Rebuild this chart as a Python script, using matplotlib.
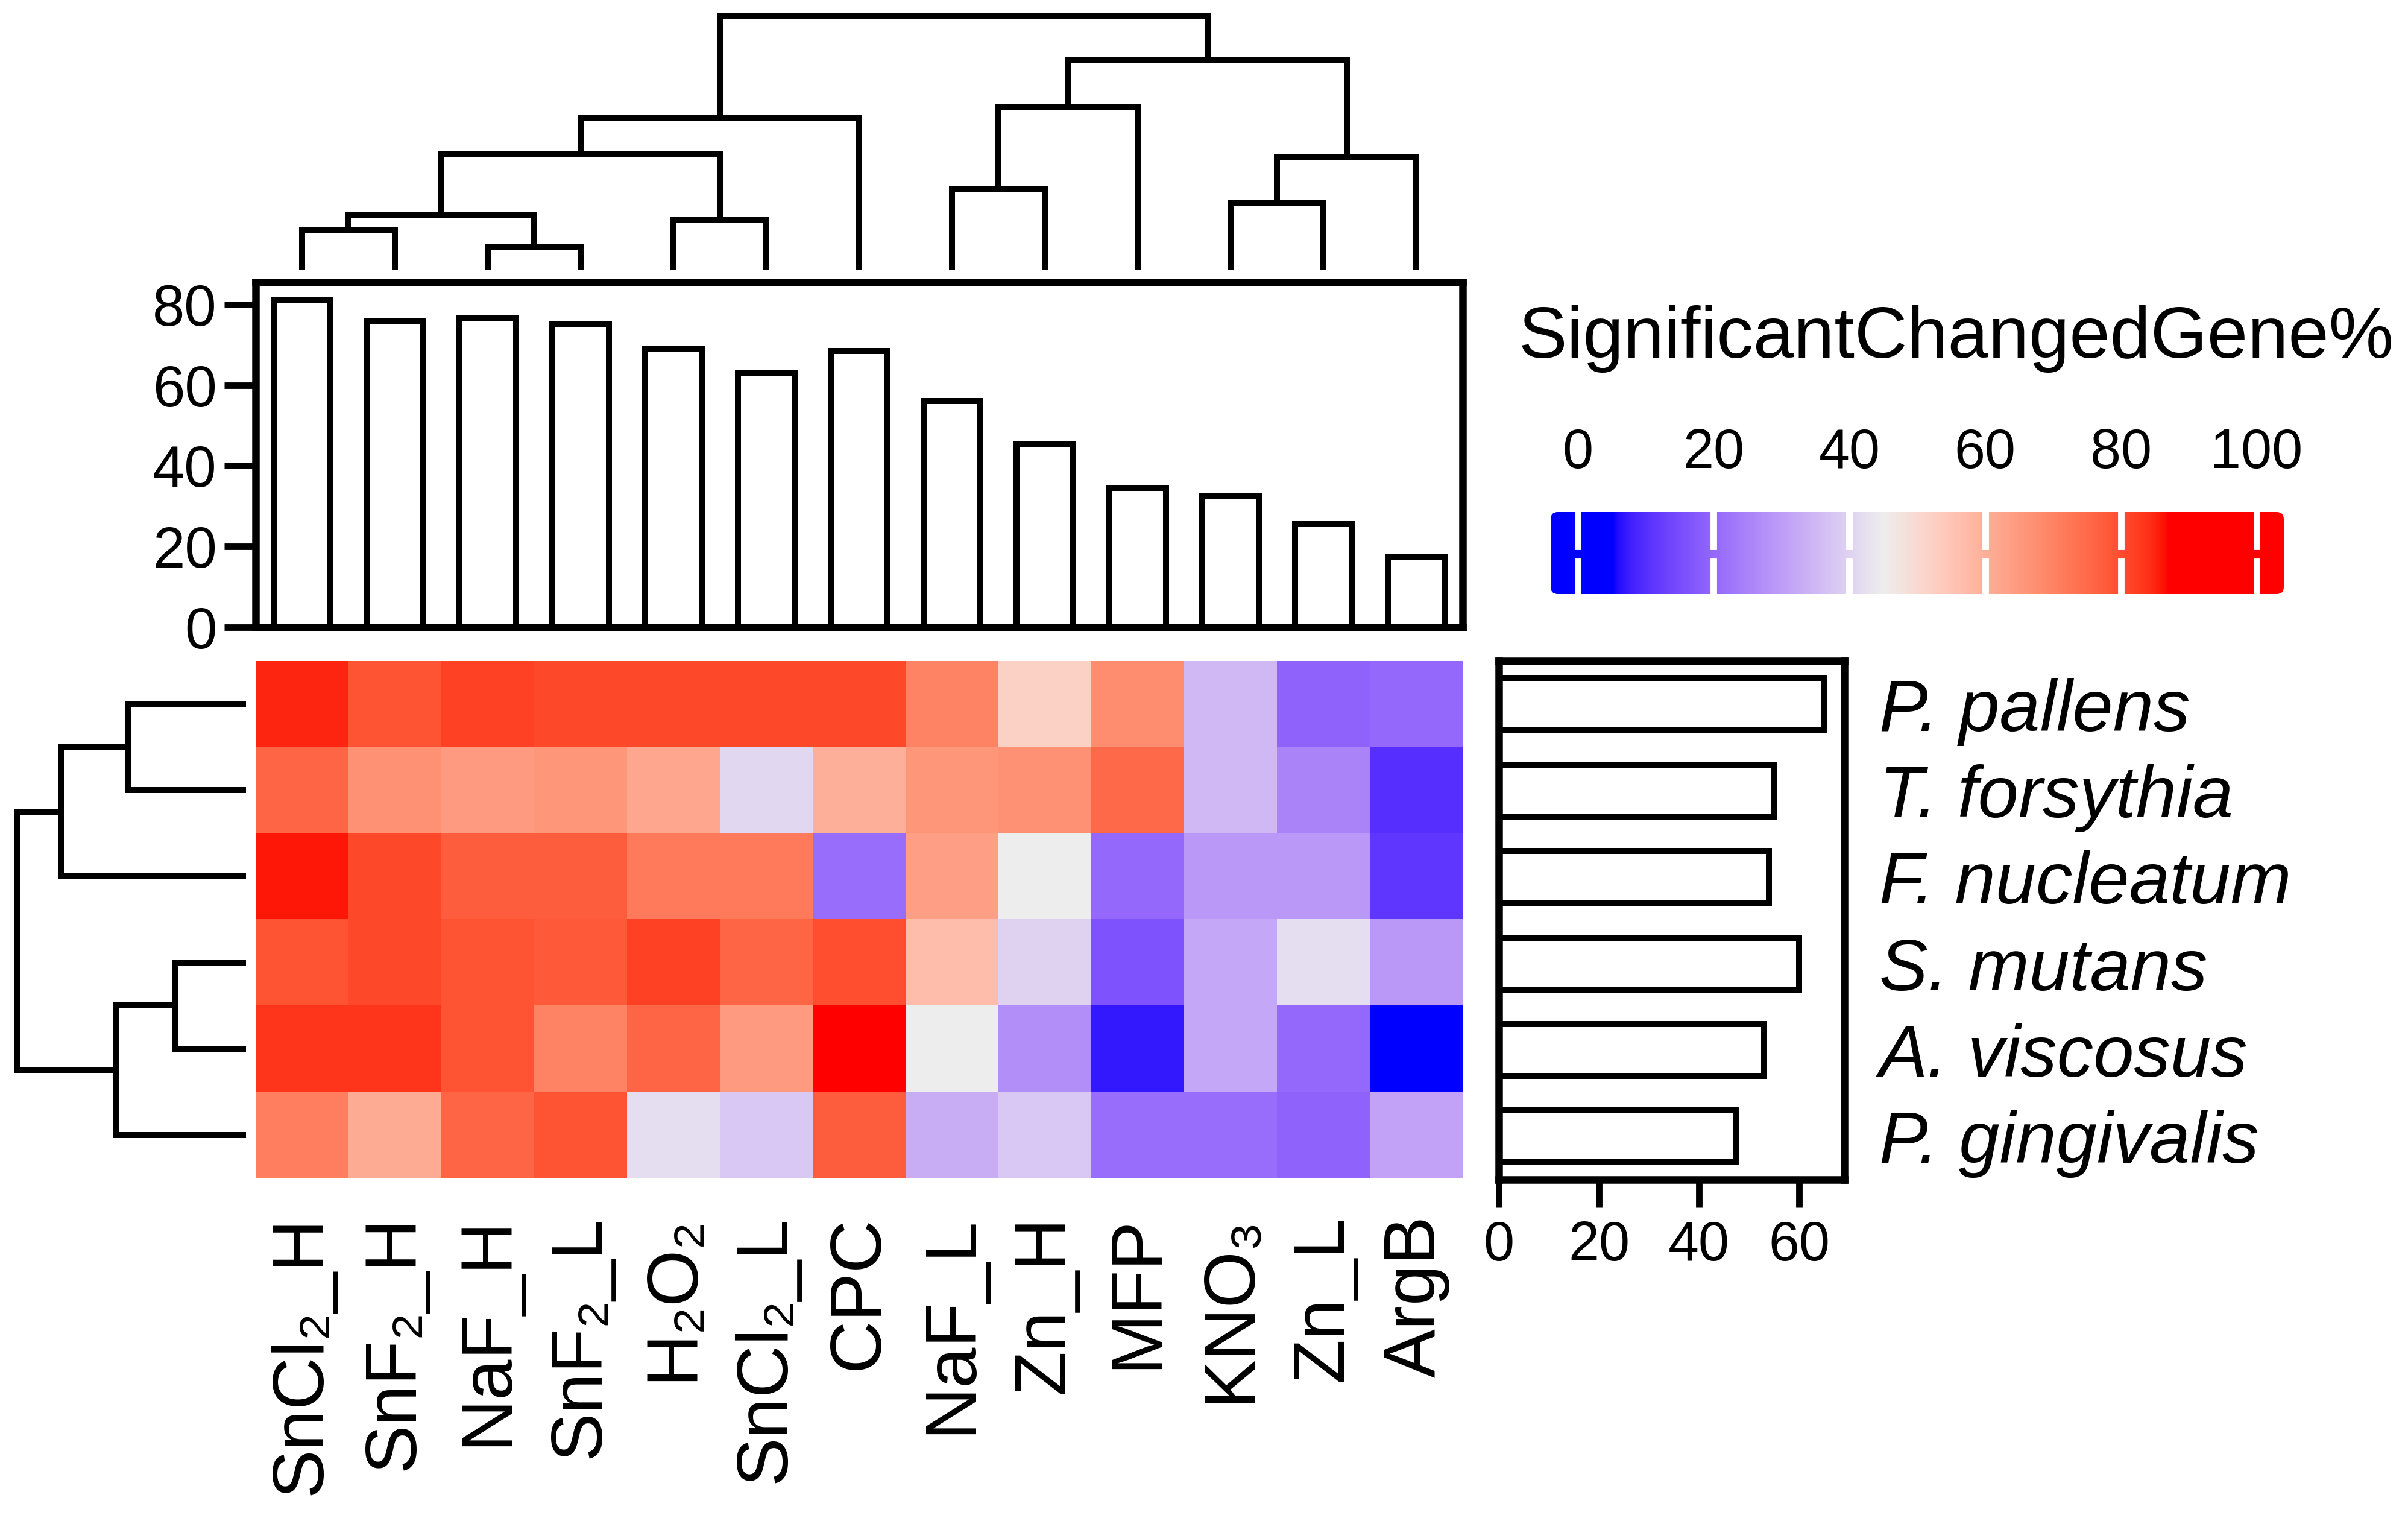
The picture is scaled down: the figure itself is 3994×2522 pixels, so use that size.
import numpy as np
import matplotlib
matplotlib.use("Agg")
import matplotlib.pyplot as plt
from matplotlib.colors import ListedColormap, Normalize, to_rgb
from matplotlib.patches import FancyBboxPatch

plt.rcParams["font.family"] = ["Liberation Sans", "DejaVu Sans"]

W, H = 3994, 2522
OUT = "out.png"

# ---- data -----------------------------------------------------------------
treatments = ["SnCl₂_H", "SnF₂_H", "NaF_H", "SnF₂_L", "H₂O₂", "SnCl₂_L", "CPC",
              "NaF_L", "Zn_H", "MFP", "KNO₃", "Zn_L", "ArgB"]
species = ["P. pallens", "T. forsythia", "F. nucleatum", "S. mutans",
           "A. viscosus", "P. gingivalis"]

# % significantly changed genes, rows = species, cols = treatments
pct_pallens = [85, 79, 82, 81, 81, 81, 81, 70, 52, 68, 35, 19, 20]
pct_forsythia = [76, 67, 65, 66, 62, 41, 60, 66, 67, 75, 35, 25, 10]
pct_nucleatum = [86, 81, 77.5, 77.5, 72, 72, 21, 64, 45, 20, 29, 29, 11]
pct_mutans = [79, 81, 79, 78, 82, 76, 80, 57, 40, 16, 32, 42, 29]
pct_viscosus = [83.5, 83.5, 79, 70, 76, 65, 88, 45, 27, 7, 32, 20, 3]
pct_gingivalis = [71, 61, 76, 79, 42, 38, 77.5, 33, 38, 21, 21, 19, 31]

treatment_total = [81, 76, 76.5, 75, 69, 63, 68.5, 56, 45.5, 34.5, 32.5, 25.5, 17.5]
species_total = [65, 55, 54, 60, 53, 47.5]

# dendrogram merges: (child_a, child_b, height); leaves are 0..n-1
col_merges = [(0, 1, 63), (2, 3, 34), (13, 14, 88), (4, 5, 79), (15, 16, 189),
              (17, 6, 248), (7, 8, 131), (19, 9, 266.5), (10, 11, 107),
              (21, 12, 184), (20, 22, 344), (18, 23, 417)]
row_merges = [(0, 1, 190), (6, 2, 302), (3, 4, 113), (8, 5, 210), (7, 9, 375)]

cmap_breaks = [5, 45, 87]
cmap_colors = ["#0000FF", "#EEEEEE", "#FF0000"]
legend_ticks = [0, 20, 40, 60, 80, 100]


# ---- colour mapping interpolated in LAB (like colorRamp2) -----------------
def srgb_to_lab(rgb):
    c = np.asarray(rgb, float)
    lin = np.where(c <= 0.04045, c / 12.92, ((c + 0.055) / 1.055) ** 2.4)
    m = np.array([[0.4124, 0.3576, 0.1805],
                  [0.2126, 0.7152, 0.0722],
                  [0.0193, 0.1192, 0.9505]])
    xyz = m @ lin / np.array([0.95047, 1.0, 1.08883])
    f = np.where(xyz > 0.008856, np.cbrt(xyz), 7.787 * xyz + 16 / 116)
    return np.array([116 * f[1] - 16, 500 * (f[0] - f[1]), 200 * (f[1] - f[2])])


def lab_to_srgb(lab):
    L, a, b = lab
    fy = (L + 16) / 116
    fx, fz = fy + a / 500, fy - b / 200
    f = np.array([fx, fy, fz])
    xyz = np.where(f > 0.2069, f ** 3, (f - 16 / 116) / 7.787)
    xyz = xyz * np.array([0.95047, 1.0, 1.08883])
    m = np.array([[3.2406, -1.5372, -0.4986],
                  [-0.9689, 1.8758, 0.0415],
                  [0.0557, -0.2040, 1.0570]])
    lin = np.clip(m @ xyz, 0, 1)
    return np.clip(np.where(lin <= 0.0031308, 12.92 * lin,
                            1.055 * lin ** (1 / 2.4) - 0.055), 0, 1)


def lab_cmap(breaks, colors, vmin=0, vmax=100, n=512):
    labs = [srgb_to_lab(to_rgb(c)) for c in colors]
    out = []
    for v in np.linspace(vmin, vmax, n):
        v = min(max(v, breaks[0]), breaks[-1])
        i = 0 if v <= breaks[1] else 1
        t = (v - breaks[i]) / (breaks[i + 1] - breaks[i])
        out.append(lab_to_srgb(labs[i] * (1 - t) + labs[i + 1] * t))
    return ListedColormap(out)


def draw_dendro(ax, merges, n, orient, lw=2.4):
    pos = {i: (float(i), 0.0) for i in range(n)}
    for k, (a, b, h) in enumerate(merges):
        xa, ha = pos[a]
        xb, hb = pos[b]
        xs, ys = [xa, xa, xb, xb], [ha, h, h, hb]
        if orient == "top":
            ax.plot(xs, ys, color="black", lw=lw, solid_joinstyle="miter")
        else:
            ax.plot(ys, xs, color="black", lw=lw, solid_joinstyle="miter")
        pos[n + k] = ((xa + xb) / 2, h)
    ax.axis("off")


def box(x0, y0, x1, y1):
    return [x0 / W, 1 - y1 / H, (x1 - x0) / W, (y1 - y0) / H]


def main():
    fig = plt.figure(figsize=(W / 300, H / 300), dpi=300)
    cmap = lab_cmap(cmap_breaks, cmap_colors)
    norm = Normalize(0, 100)
    data = np.array([pct_pallens, pct_forsythia, pct_nucleatum, pct_mutans,
                     pct_viscosus, pct_gingivalis])
    nr, nc = data.shape

    # column dendrogram
    ax_cd = fig.add_axes(box(424, 20, 2426, 448))
    draw_dendro(ax_cd, col_merges, nc, "top")
    ax_cd.set_xlim(-0.5, nc - 0.5)
    ax_cd.set_ylim(-4, 424)

    # column bar annotation
    ax_cb = fig.add_axes(box(424, 468, 2426, 1040))
    ax_cb.bar(range(nc), treatment_total, width=0.61, color="white",
              edgecolor="black", lw=2.4)
    ax_cb.set_xlim(-0.5, nc - 0.5)
    ax_cb.set_ylim(0, 85.5)
    ax_cb.set_xticks([])
    ax_cb.set_yticks([0, 20, 40, 60, 80])
    ax_cb.tick_params(axis="y", length=12.5, width=2.6, pad=3, labelsize=23)
    for s in ax_cb.spines.values():
        s.set_linewidth(3)

    # heatmap
    ax_h = fig.add_axes(box(424, 1096, 2426, 1953))
    ax_h.imshow(data, cmap=cmap, norm=norm, aspect="auto",
                interpolation="nearest")
    ax_h.set_xticks(range(nc))
    ax_h.set_xticklabels(treatments, rotation=90, fontsize=29)
    ax_h.tick_params(axis="x", length=0, pad=15)
    ax_h.set_yticks([])
    for s in ax_h.spines.values():
        s.set_visible(False)

    # row dendrogram
    ax_rd = fig.add_axes(box(20, 1096, 424, 1953))
    draw_dendro(ax_rd, row_merges, nr, "left")
    ax_rd.set_ylim(nr - 0.5, -0.5)
    ax_rd.set_xlim(383, -21)

    # row bar annotation
    ax_rb = fig.add_axes(box(2486, 1096, 3059, 1956))
    ax_rb.barh(range(nr), species_total, height=0.6, color="white",
               edgecolor="black", lw=2.4)
    ax_rb.set_ylim(nr - 0.5, -0.5)
    ax_rb.set_xlim(0, 69)
    ax_rb.set_xticks([0, 20, 40, 60])
    ax_rb.tick_params(axis="x", length=11, width=2.6, pad=5, labelsize=22)
    ax_rb.yaxis.tick_right()
    ax_rb.set_yticks(range(nr))
    ax_rb.set_yticklabels(species, fontsize=29, fontstyle="italic")
    ax_rb.tick_params(axis="y", length=0, pad=14)
    for s in ax_rb.spines.values():
        s.set_linewidth(3)

    # colour legend
    lg_px = (2572, 849, 3788, 985)
    ax_lg = fig.add_axes(box(*lg_px))
    lo, hi = legend_ticks[0] - 4, legend_ticks[-1] + 4
    grad = np.linspace(lo, hi, 600)[None, :]
    im = ax_lg.imshow(grad, cmap=cmap, norm=norm, aspect="auto",
                      extent=(lo, hi, 0, 1))
    px_per_x = (lg_px[2] - lg_px[0]) / (hi - lo)
    px_per_y = lg_px[3] - lg_px[1]
    clip = FancyBboxPatch((lo, 0), hi - lo, 1,
                          boxstyle="round,pad=0,rounding_size=%.3f" % (12 / px_per_x),
                          mutation_aspect=px_per_x / px_per_y,
                          transform=ax_lg.transData, facecolor="none",
                          edgecolor="none")
    ax_lg.add_patch(clip)
    im.set_clip_path(clip)
    for t in legend_ticks:
        ax_lg.plot([t, t], [0.0, 0.4], color="white", lw=2.6)
        ax_lg.plot([t, t], [0.58, 1.0], color="white", lw=2.6)
    ax_lg.set_xlim(lo, hi)
    ax_lg.set_ylim(0, 1)
    ax_lg.xaxis.tick_top()
    ax_lg.set_xticks(legend_ticks)
    ax_lg.set_xticklabels([str(t) for t in legend_ticks], fontsize=22)
    ax_lg.tick_params(axis="x", length=0, pad=13)
    ax_lg.set_yticks([])
    for s in ax_lg.spines.values():
        s.set_visible(False)

    fig.text(2519 / W, 1 - 593 / H, "SignificantChangedGene%", fontsize=29,
             ha="left", va="baseline")

    fig.savefig(OUT, dpi=300)
    plt.close(fig)


if __name__ == "__main__":
    main()
